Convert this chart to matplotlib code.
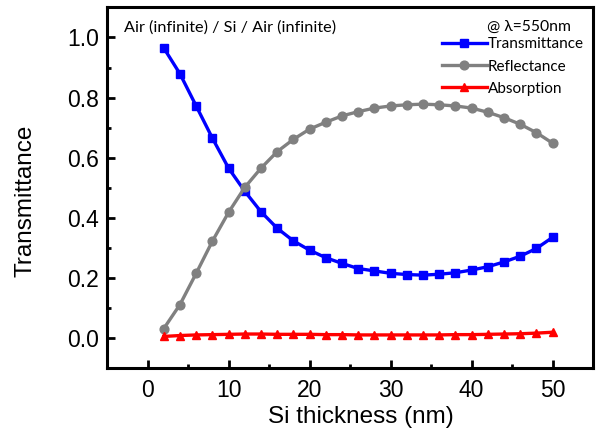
import numpy as np
import matplotlib.pyplot as plt
from matplotlib.ticker import MultipleLocator

# Si slab between two semi-infinite air regions, lambda = 550 nm
thickness = [2, 4, 6, 8, 10, 12, 14, 16, 18, 20, 22, 24, 26,
             28, 30, 32, 34, 36, 38, 40, 42, 44, 46, 48, 50]
transmittance = [0.965, 0.879, 0.772, 0.665, 0.565, 0.488, 0.420, 0.365,
                 0.323, 0.292, 0.267, 0.248, 0.231, 0.223, 0.215, 0.211,
                 0.209, 0.212, 0.217, 0.226, 0.237, 0.253, 0.272, 0.298, 0.335]
reflectance = [0.031, 0.111, 0.215, 0.322, 0.418, 0.501, 0.565, 0.620,
               0.661, 0.695, 0.718, 0.739, 0.753, 0.765, 0.772, 0.776,
               0.778, 0.776, 0.772, 0.765, 0.751, 0.733, 0.711, 0.683, 0.648]
absorption = [0.005, 0.008, 0.010, 0.011, 0.012, 0.013, 0.013, 0.012,
              0.012, 0.012, 0.011, 0.011, 0.010, 0.010, 0.010, 0.010,
              0.010, 0.010, 0.011, 0.011, 0.012, 0.013, 0.014, 0.016, 0.019]

plt.rcParams['font.family'] = ['Liberation Sans', 'DejaVu Sans']

fig = plt.figure(figsize=(5.98, 4.36), dpi=100)
ax = fig.add_axes([0.179, 0.156, 0.813, 0.827])

ax.plot(thickness, transmittance, color='#0000ff', lw=2.4, marker='s',
        ms=6.3, label='Transmittance')
ax.plot(thickness, reflectance, color='#808080', lw=2.4, marker='o',
        ms=6.3, label='Reflectance')
ax.plot(thickness, absorption, color='#ff0000', lw=2.4, marker='^',
        ms=6.3, label='Absorption')

ax.set_xlim(-5, 55)
ax.set_ylim(-0.1, 1.1)
ax.xaxis.set_major_locator(MultipleLocator(10))
ax.xaxis.set_minor_locator(MultipleLocator(5))
ax.yaxis.set_major_locator(MultipleLocator(0.2))
ax.yaxis.set_minor_locator(MultipleLocator(0.1))
ax.yaxis.set_major_formatter(plt.FormatStrFormatter('%.1f'))

for s in ax.spines.values():
    s.set_linewidth(2.2)
ax.tick_params(which='both', direction='in', top=False, right=False, width=2)
ax.tick_params(which='major', length=6, labelsize=16.5)
ax.tick_params(axis='x', which='major', pad=8)
ax.tick_params(axis='y', which='major', pad=6)
ax.tick_params(which='minor', length=3)

ax.set_xlabel('Si thickness (nm)', fontsize=17.5)
ax.set_ylabel('Transmittance', fontsize=17.5)
ax.xaxis.set_label_coords(0.522, -0.105)
ax.yaxis.set_label_coords(-0.145, 0.463)

ax.text(0.035, 0.965, 'Air (infinite) / Si / Air (infinite)', transform=ax.transAxes,
        fontsize=11.7, family='Lato', ha='left', va='top')
ax.text(0.955, 0.965, '@ \u03bb=550nm', transform=ax.transAxes,
        fontsize=11.3, family=['Lato', 'DejaVu Sans'], ha='right', va='top')

leg = ax.legend(loc='upper right', bbox_to_anchor=(1.0, 0.942), frameon=False,
                prop={'family': 'Lato', 'size': 11}, handlelength=2.9,
                handletextpad=0.1, labelspacing=0.53, borderaxespad=0.2)

fig.savefig('out.png', dpi=100)
